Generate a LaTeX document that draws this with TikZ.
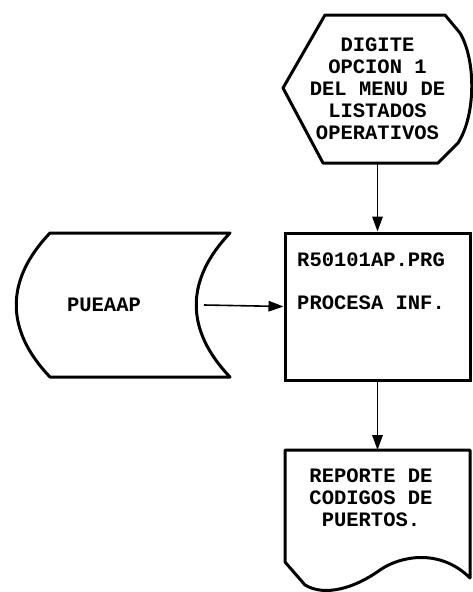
\documentclass[tikz,border=0pt]{standalone}
\usepackage{fontspec}
\setmonofont{Liberation Mono}
\usetikzlibrary{arrows.meta, positioning}

\begin{document}
\begin{tikzpicture}[
    x=1pt, y=-1pt,
    every node/.style={font=\ttfamily\bfseries\fontsize{20.5}{22}\selectfont, inner sep=0pt},
    borde/.style={line width=3pt, line join=round},
    flecha/.style={-{Triangle[length=15pt, width=10.5pt]}, line width=1.6pt},
    marco/.style={outer sep=0pt}
]

\useasboundingbox (0,0) rectangle (472,592);

% ============ PANTALLA (DISPLAY) ============
\node[marco, align=center, minimum width=189pt, minimum height=148pt] (disp) at (377.5, 89) {
    DIGITE\\
    OPCION 1\\
    DEL MENU DE\\
    LISTADOS\\
    OPERATIVOS
};
\draw[borde] (325,15) -- (445,15) -- (460,33)
    .. controls (476,60) and (476,115) .. (458,143)
    -- (438,163) -- (323,163) -- (283,88) -- cycle;

% ============ PROCESO ============
\node[draw, line width=3pt, minimum width=185pt, minimum height=147pt] (proc) at (377.5, 306.5) {};
\node[anchor=west] (prg) at (297, 260) {R50101AP.PRG};
\node[anchor=west] (inf) at (297, 303) {PROCESA INF.};

% ============ ARCHIVO (STORED DATA) ============
\node[marco, minimum width=180pt, minimum height=144pt] (data) at (104, 305) {PUEAAP};
\draw[borde] (50,233) -- (230,233)
    .. controls (185,280) and (185,330) .. (230,377)
    -- (50,377)
    .. controls (5,330) and (5,280) .. cycle;

% ============ REPORTE (DOCUMENT) ============
\node[marco, minimum width=185pt, minimum height=140pt] (doc) at (377.5, 520) {};
\node[align=center] (doctxt) at (371, 498) {
    REPORTE DE\\
    CODIGOS DE\\
    PUERTOS.
};
\draw[borde] (285,562) -- (285,450) -- (470,450) -- (470,578)
    .. controls (440,548) and (400,556) .. (380,570)
    .. controls (355,588) and (325,597) .. (305,585)
    -- cycle;

% Conectores
\draw[flecha] (disp.south) -- (proc.north);
\draw[flecha] ([xshift=10pt]data.east) -- (proc.west);
\draw[flecha] (proc.south) -- (doc.north);

\end{tikzpicture}
\end{document}
